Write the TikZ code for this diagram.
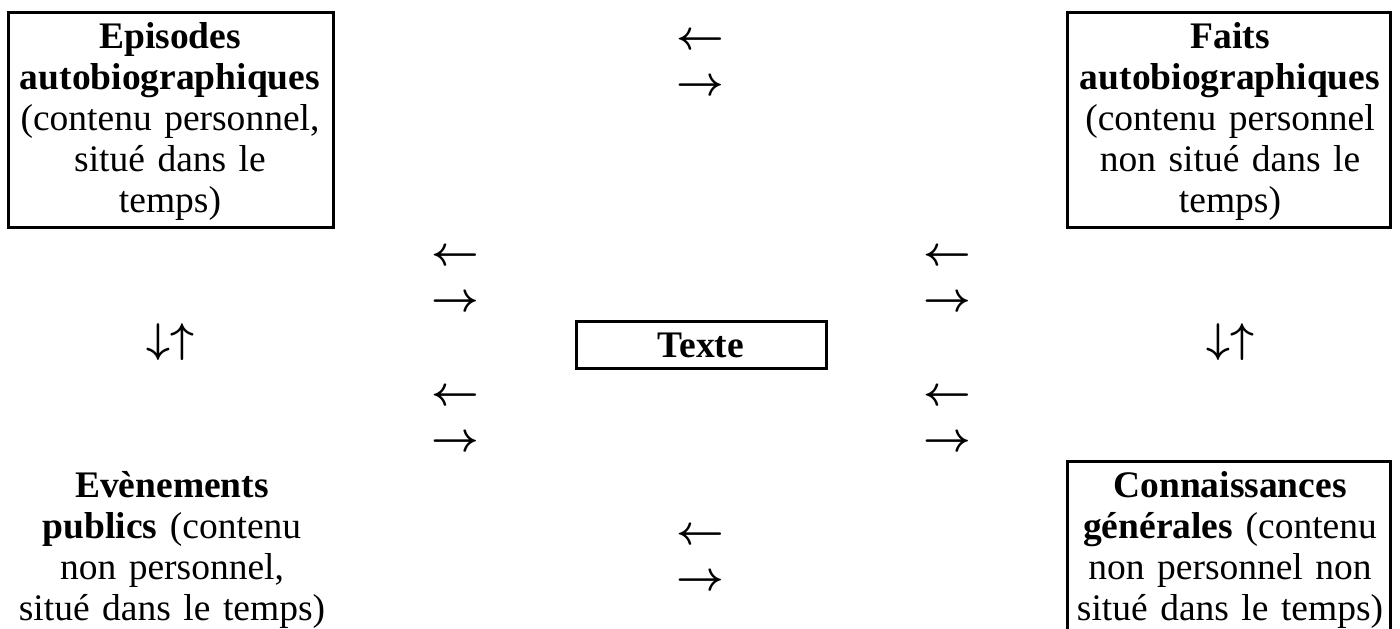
\documentclass[tikz,border=0pt]{standalone}
\usepackage{fontspec}
\setmainfont{Liberation Serif}

\tikzset{
  bloc/.style={text width=180pt, align=center, anchor=base, inner sep=0pt,
    font=\fontsize{18.75}{20.5}\selectfont},
  fleche/.style={inner sep=0pt, font=\fontsize{20}{24}\selectfont\boldmath},
  cadre/.style={line width=1.5pt}
}

\begin{document}
\begin{tikzpicture}[x=0.5pt,y=-0.5pt]
\useasboundingbox (0,0) rectangle (1400,628);
% --- cadres ---
\draw[cadre] (8,12) rectangle (333,227);
\draw[cadre] (1067,12) rectangle (1390,227);
\draw[cadre] (576,321) rectangle (826,368);
\draw[cadre] (1067,632) -- (1067,461) -- (1390,461) -- (1390,632);
% --- textes ---
\node[bloc] (episodes) at (170,48)
  {\textbf{Episodes}\\ \textbf{autobiographiques}\\ (contenu personnel,\\ situé dans le\\ temps)};
\node[bloc] (faits) at (1230,48)
  {\textbf{Faits}\\ \textbf{autobiographiques}\\ (contenu personnel\\ non situé dans le\\ temps)};
\node[bloc] (texte) at (701,357) {\textbf{Texte}};
\node[bloc] (evenements) at (172,497)
  {\textbf{Evènements}\\ \textbf{publics} (contenu\\ non personnel,\\ situé dans le temps)};
\node[bloc] (connaissances) at (1230,497)
  {\textbf{Connaissances}\\ \textbf{générales} (contenu\\ non personnel non\\ situé dans le temps)};
% --- fleches ---
\foreach \x/\y/\s [count=\i] in {700/41/\leftarrow, 700/87/\rightarrow,
    455/257/\leftarrow, 455/303/\rightarrow, 455/397/\leftarrow, 455/443/\rightarrow,
    947/257/\leftarrow, 947/303/\rightarrow, 947/397/\leftarrow, 947/443/\rightarrow,
    700/536/\leftarrow, 700/582/\rightarrow,
    170/342/\downarrow\uparrow, 1230/342/\downarrow\uparrow}
  {\node[fleche] (f\i) at (\x,\y) {$\s$};}
\end{tikzpicture}
\end{document}
